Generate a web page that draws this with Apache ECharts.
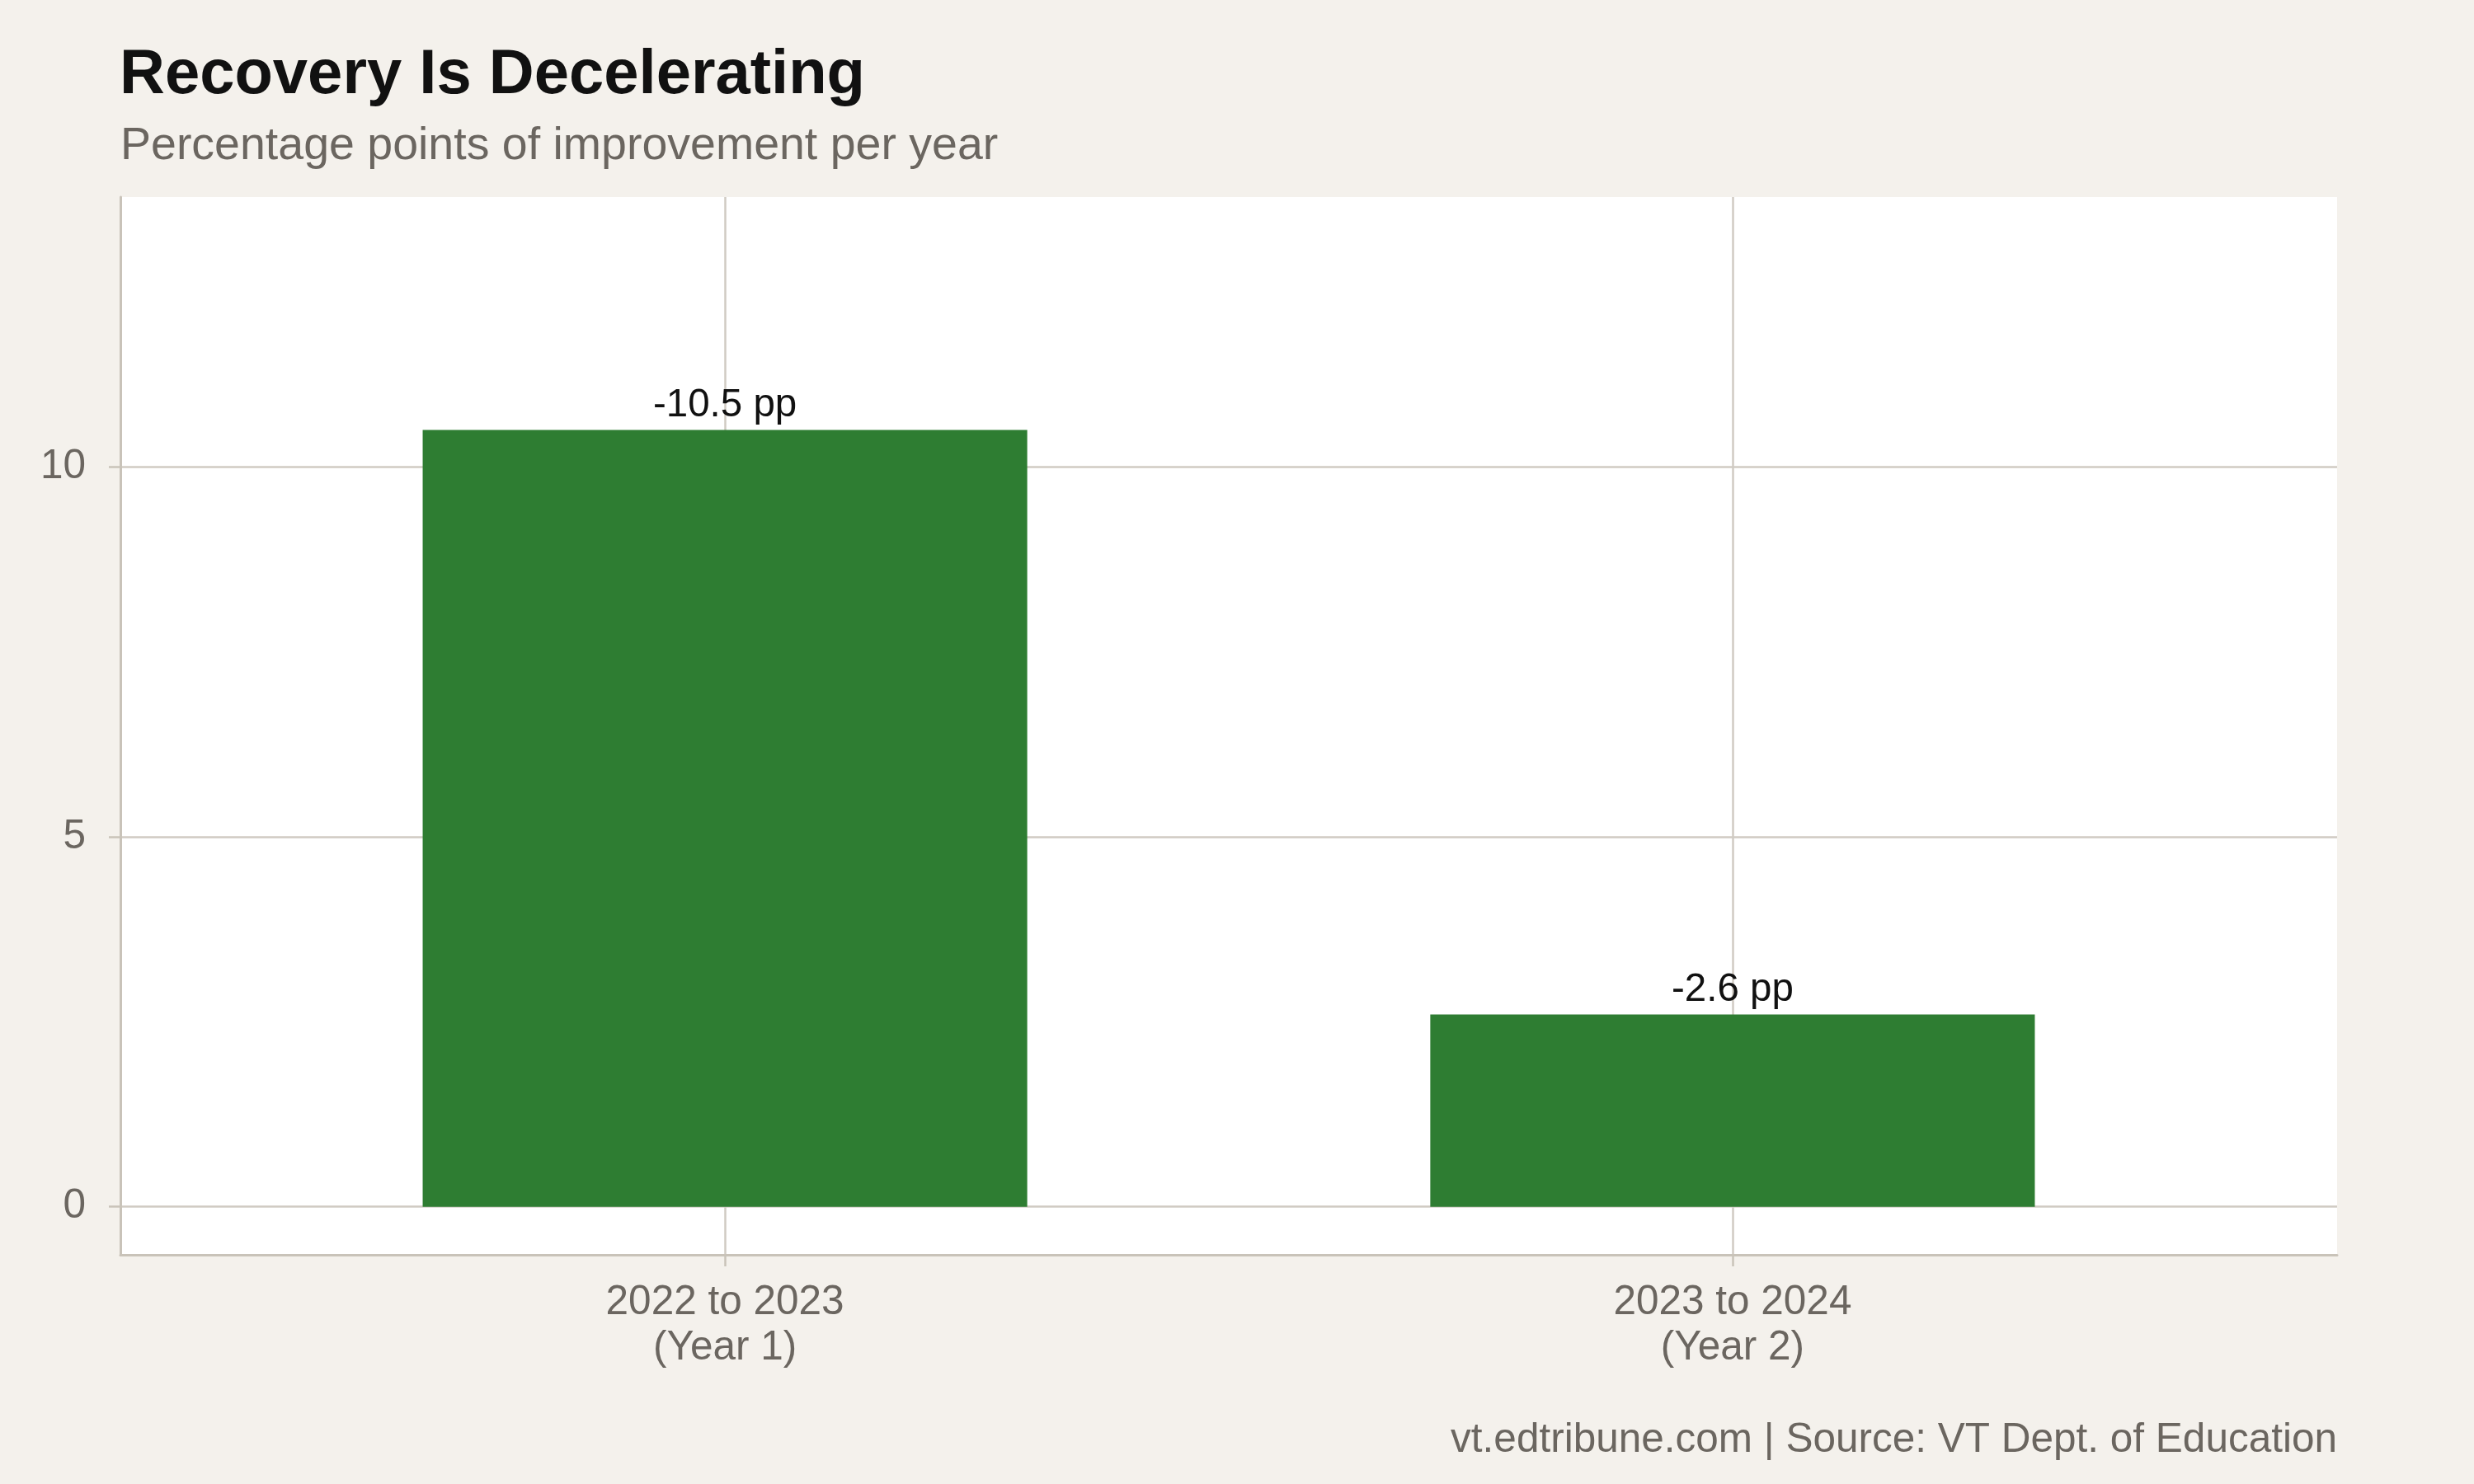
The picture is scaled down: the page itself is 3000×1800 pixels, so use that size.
<!DOCTYPE html>
<html>
<head>
<meta charset="utf-8">
<script src="https://cdn.jsdelivr.net/npm/echarts@6/dist/echarts.min.js"></script>
<style>
  html, body { margin: 0; padding: 0; background: #f4f1ec; }
  #chart { width: 3000px; height: 1800px; }
</style>
</head>
<body>
<div id="chart"></div>
<script>
// ---- data ----
const titleText = 'Recovery Is Decelerating';
const subtitleText = 'Percentage points of improvement per year';
const footerText = 'vt.edtribune.com | Source: VT Dept. of Education';
const categories = ['2022 to 2023\n(Year 1)', '2023 to 2024\n(Year 2)'];
const categoryPositions = [1, 2];
const values = [10.5, 2.6];
const valueLabels = ['-10.5 pp', '-2.6 pp'];
const yTicks = [0, 5, 10];

// ---- styling ----
const FONT = '"Liberation Sans", Arial, Helvetica, sans-serif';
const GRAY = '#6b6660';
const AXIS = '#c9c3b9';
const GRID = '#d0cbc3';

const chart = echarts.init(document.getElementById('chart'), null, { renderer: 'canvas' });

chart.setOption({
  animation: false,
  backgroundColor: '#f4f1ec',
  textStyle: { fontFamily: FONT },
  title: [
    { text: titleText, left: 145, top: 54, padding: 0,
      textStyle: { fontFamily: FONT, fontSize: 76, fontWeight: 'bold', color: '#111111' } },
    { text: subtitleText, left: 146, top: 150, padding: 0,
      textStyle: { fontFamily: FONT, fontSize: 55.5, fontWeight: 'normal', color: GRAY } },
    { text: footerText, right: 166, top: 1722, padding: 0,
      textStyle: { fontFamily: FONT, fontSize: 49.5, fontWeight: 'normal', color: GRAY } }
  ],
  grid: {
    left: 146, right: 166, top: 239, bottom: 278,
    show: true, backgroundColor: '#ffffff', borderWidth: 0,
    containLabel: false, outerBoundsMode: 'none'
  },
  xAxis: {
    type: 'value',
    min: 0.4, max: 2.6,
    axisLine: { show: true, onZero: false, lineStyle: { color: AXIS, width: 3 } },
    axisTick: { show: true, length: 14, customValues: categoryPositions, lineStyle: { color: AXIS, width: 2.5 } },
    axisLabel: {
      show: true, customValues: categoryPositions, margin: 31,
      fontFamily: FONT, fontSize: 49.5, color: GRAY, lineHeight: 55, align: 'center',
      formatter: function (v) {
        const i = categoryPositions.indexOf(Math.round(v));
        return i >= 0 ? categories[i] : '';
      }
    },
    splitLine: { show: true, lineStyle: { color: GRID, width: 2.5 } }
  },
  yAxis: {
    type: 'value',
    min: -0.65, max: 13.65,
    axisLine: { show: true, onZero: false, lineStyle: { color: AXIS, width: 3 } },
    axisTick: { show: true, length: 14, customValues: yTicks, lineStyle: { color: AXIS, width: 2.5 } },
    axisLabel: {
      show: true, customValues: yTicks, margin: 42,
      fontFamily: FONT, fontSize: 49.5, color: GRAY
    },
    splitLine: { show: true, lineStyle: { color: GRID, width: 2.5 } }
  },
  series: [{
    type: 'bar',
    data: categoryPositions.map((x, i) => [x, values[i]]),
    barWidth: '60%',
    itemStyle: { color: '#2e7d32' },
    label: {
      show: true, position: 'top', distance: 6,
      fontFamily: FONT, fontSize: 47.5, color: '#111111',
      formatter: function (p) { return valueLabels[p.dataIndex]; }
    }
  }]
});
</script>
</body>
</html>
